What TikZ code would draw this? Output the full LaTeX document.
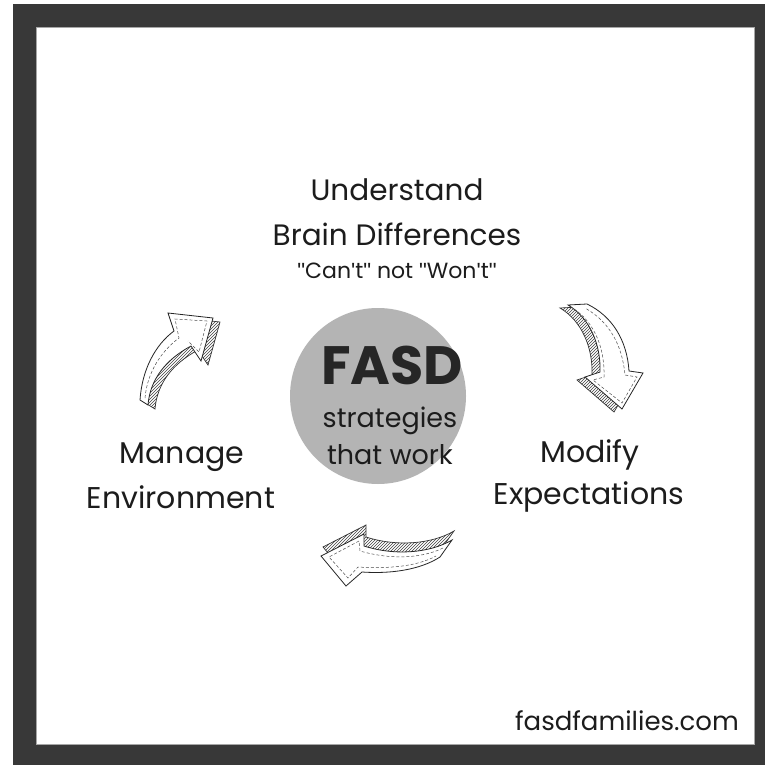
\documentclass[tikz,border=0pt]{standalone}
\usepackage{fontspec}
\setmainfont{Poppins}
\newfontfamily\quotefont{Liberation Sans}
\usetikzlibrary{patterns}
\definecolor{frame}{HTML}{383838}
\definecolor{disc}{HTML}{B4B4B4}
\definecolor{ink}{HTML}{1C1C1C}
\newcommand{\sq}{{\quotefont\char"27}}
\newcommand{\dq}{{\quotefont\char"22}}
\tikzset{
  lbl/.style={text=ink, align=center, inner sep=0pt},
  hatchface/.style={pattern=north east lines, pattern color=black!75, draw=black!80, line width=0.7pt},
  frontface/.style={fill=white, draw=black!85, line width=0.8pt},
  dashin/.style={draw=black!70, dashed, dash pattern=on 3pt off 2pt, line width=0.5pt}
}
\begin{document}
\begin{tikzpicture}[x=1pt,y=-1pt]
\useasboundingbox (0,0) rectangle (765,765);
\fill[white] (0,0) rectangle (765,765);
\fill[frame] (13,4) rectangle (765,765);
\fill[white] (36,27) rectangle (755,745);
\draw[black!35, line width=0.6pt] (36.5,27.5) rectangle (754.5,744.5);

% centre disc
\node[circle, fill=disc, minimum size=176pt, inner sep=0pt] (hub) at (378,396) {};
\node[lbl, font=\bfseries\fontsize{54}{54}\selectfont, text=black!85, text depth=0pt] (fasd) at (392,365) {FASD};
\node[lbl, font=\fontsize{27}{27}\selectfont] (strat) at (390,421) {strategies};
\node[lbl, font=\fontsize{27}{27}\selectfont] (work) at (390,455) {that work};

% labels
\node[lbl, font=\fontsize{29.5}{29.5}\selectfont] (under) at (397,190) {Understand};
\node[lbl, font=\fontsize{29.5}{29.5}\selectfont] (brain) at (397,234) {Brain Differences};
\node[lbl, font=\fontsize{22}{22}\selectfont] (cant) at (397,271) {\dq Can\sq t\dq{} not \dq Won\sq t\dq};
\node[lbl, font=\fontsize{30}{30}\selectfont] (manage) at (182,457) {Manage};
\node[lbl, font=\fontsize{30}{30}\selectfont] (env) at (181,497) {Environment};
\node[lbl, font=\fontsize{30}{30}\selectfont] (modify) at (590,455) {Modify};
\node[lbl, font=\fontsize{30}{30}\selectfont] (expect) at (589,497) {Expectations};
\node[lbl, font=\fontsize{26}{26}\selectfont] (site) at (627,721) {fasdfamilies.com};

% arrow 1 (top right, pointing down)
\path[hatchface, shift={(-8,3)}] (568,305) .. controls (590,318) and (601,345) .. (600,372) -- (585,377) -- (622,409) -- (643,373) -- (629,371) .. controls (627,340) and (612,316) .. (587,304) -- cycle;
\path[frontface] (568,305) .. controls (590,318) and (601,345) .. (600,372) -- (585,377) -- (622,409) -- (643,373) -- (629,371) .. controls (627,340) and (612,316) .. (587,304) -- cycle;
\path[dashin] (574,309) .. controls (594,322) and (605,348) .. (604,377) -- (593,380) -- (622,403) -- (637,377) -- (625,375) .. controls (622,343) and (608,321) .. (585,308);

% arrow 2 (bottom, pointing left)
\path[hatchface, shift={(2,-9)}] (321,556) -- (364,534) -- (364,546) .. controls (395,556) and (430,553) .. (452,540) -- (440,557) .. controls (420,570) and (390,574) .. (362,572) -- (346,586) -- cycle;
\path[frontface] (321,556) -- (364,534) -- (364,546) .. controls (395,556) and (430,553) .. (452,540) -- (440,557) .. controls (420,570) and (390,574) .. (362,572) -- (346,586) -- cycle;
\path[dashin] (443,548) .. controls (425,557) and (395,561) .. (360,551) -- (359,541) -- (329,557) -- (348,578) -- (358,567) .. controls (390,569) and (418,566) .. (436,556);

% arrow 3 (left, pointing up-right)
\path[hatchface, shift={(7,4)}] (213,318) -- (201,361) -- (191,346) .. controls (165,360) and (150,380) .. (148,405) -- (140,400) .. controls (142,370) and (155,345) .. (174,331) -- (168,313) -- cycle;
\path[frontface] (213,318) -- (201,361) -- (191,346) .. controls (165,360) and (150,380) .. (148,405) -- (140,400) .. controls (142,370) and (155,345) .. (174,331) -- (168,313) -- cycle;
\path[dashin] (145,398) .. controls (147,374) and (160,352) .. (179,338) -- (175,319) -- (207,321) -- (199,352) -- (188,341);
\end{tikzpicture}
\end{document}
